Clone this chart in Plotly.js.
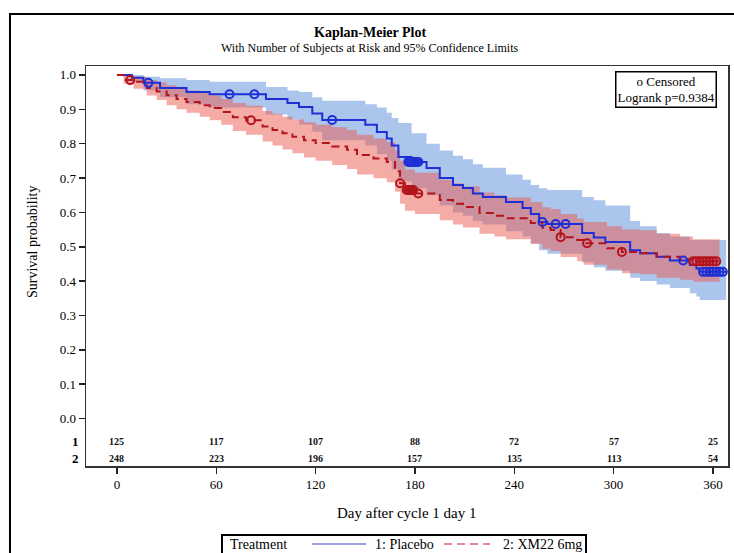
<!DOCTYPE html>
<html>
<head>
<meta charset="utf-8">
<script src="https://cdn.plot.ly/plotly-3.0.1.min.js"></script>
<style>html,body{margin:0;padding:0;background:#fff;}#chart{width:734px;height:553px;}</style>
</head>
<body>
<div id="chart"></div>
<script>
// ---------- data ----------
var xTicks = [0, 60, 120, 180, 240, 300, 360];
var yTicks = [0, 0.1, 0.2, 0.3, 0.4, 0.5, 0.6, 0.7, 0.8, 0.9, 1.0];
var yTickText = ["0.0","0.1","0.2","0.3","0.4","0.5","0.6","0.7","0.8","0.9","1.0"];

var groupNames = ["1: Placebo", "2: XM22 6mg"];
var atRiskPlacebo = [125, 117, 107, 88, 72, 57, 25];
var atRiskXM22    = [248, 223, 196, 157, 135, 113, 54];

// 1: Placebo
var pTime  = [0, 9, 16, 26, 42, 56, 90, 103, 110, 118, 124, 150, 157, 163, 166, 170, 178, 187, 195, 203, 209, 215, 221, 235, 245, 250, 255, 260, 281, 288, 295, 310, 316, 326, 334, 346, 350, 352, 368];
var pSurv  = [1.0, 0.992, 0.977, 0.962, 0.950, 0.944, 0.930, 0.918, 0.907, 0.888, 0.869, 0.855, 0.834, 0.815, 0.795, 0.761, 0.747, 0.729, 0.700, 0.680, 0.671, 0.655, 0.645, 0.630, 0.613, 0.595, 0.572, 0.566, 0.540, 0.527, 0.514, 0.490, 0.481, 0.471, 0.460, 0.447, 0.437, 0.427, 0.427];
var pUpper = [1.0, 1.0, 0.995, 0.99, 0.985, 0.98, 0.965, 0.955, 0.95, 0.935, 0.925, 0.915, 0.905, 0.89, 0.875, 0.86, 0.83, 0.80, 0.78, 0.765, 0.755, 0.74, 0.73, 0.71, 0.695, 0.68, 0.67, 0.665, 0.645, 0.635, 0.62, 0.575, 0.56, 0.54, 0.53, 0.52, 0.52, 0.52, 0.52];
var pLower = [1.0, 0.98, 0.955, 0.935, 0.915, 0.905, 0.885, 0.87, 0.855, 0.835, 0.81, 0.795, 0.77, 0.75, 0.725, 0.69, 0.67, 0.65, 0.62, 0.60, 0.59, 0.575, 0.565, 0.545, 0.53, 0.51, 0.49, 0.48, 0.455, 0.44, 0.43, 0.41, 0.40, 0.39, 0.38, 0.365, 0.355, 0.345, 0.345];
var pCensT = [19, 68, 83, 130, 176, 177, 178, 179, 180, 181, 182, 257, 265, 271, 342, 354, 356, 358, 360, 362, 364, 366];
var pCensS = [0.977, 0.944, 0.944, 0.869, 0.747, 0.747, 0.747, 0.747, 0.747, 0.747, 0.747, 0.572, 0.566, 0.566, 0.460, 0.427, 0.427, 0.427, 0.427, 0.427, 0.427, 0.427];

// 2: XM22 6mg
var rTime  = [0, 4, 10, 18, 24, 30, 36, 42, 50, 56, 63, 70, 78, 88, 94, 100, 106, 113, 120, 130, 139, 145, 155, 163, 168, 171, 174, 180, 195, 203, 209, 219, 228, 235, 250, 257, 262, 268, 278, 282, 296, 305, 316, 326, 340, 348, 364];
var rSurv  = [1.0, 0.985, 0.98, 0.962, 0.952, 0.941, 0.93, 0.921, 0.912, 0.904, 0.892, 0.877, 0.868, 0.85, 0.84, 0.83, 0.82, 0.81, 0.802, 0.792, 0.782, 0.767, 0.757, 0.747, 0.72, 0.685, 0.665, 0.655, 0.636, 0.625, 0.616, 0.598, 0.59, 0.583, 0.569, 0.555, 0.549, 0.528, 0.52, 0.51, 0.496, 0.485, 0.481, 0.471, 0.464, 0.458, 0.458];
var rUpper = [1.0, 1.0, 0.995, 0.985, 0.978, 0.97, 0.962, 0.955, 0.948, 0.94, 0.93, 0.918, 0.91, 0.895, 0.887, 0.878, 0.87, 0.862, 0.855, 0.848, 0.84, 0.826, 0.815, 0.805, 0.78, 0.75, 0.725, 0.715, 0.695, 0.685, 0.675, 0.658, 0.65, 0.643, 0.63, 0.615, 0.61, 0.595, 0.582, 0.572, 0.56, 0.55, 0.548, 0.538, 0.53, 0.522, 0.522];
var rLower = [1.0, 0.975, 0.96, 0.94, 0.927, 0.912, 0.9, 0.89, 0.878, 0.868, 0.855, 0.837, 0.826, 0.806, 0.795, 0.783, 0.772, 0.76, 0.75, 0.738, 0.726, 0.71, 0.699, 0.688, 0.66, 0.625, 0.605, 0.595, 0.577, 0.565, 0.556, 0.538, 0.53, 0.522, 0.508, 0.494, 0.488, 0.47, 0.458, 0.448, 0.434, 0.423, 0.42, 0.41, 0.404, 0.398, 0.398];
var rCensT = [8, 81, 171, 175, 176, 177, 178, 179, 182, 268, 284, 305, 348, 350, 352, 354, 356, 358, 360, 362];
var rCensS = [0.985, 0.868, 0.685, 0.665, 0.665, 0.665, 0.665, 0.665, 0.655, 0.528, 0.51, 0.485, 0.458, 0.458, 0.458, 0.458, 0.458, 0.458, 0.458, 0.458];

// ---------- styling ----------
var SERIF = "'Liberation Serif', 'Times New Roman', serif";
var BLUE = "#1f2fd6";
var RED = "#b3141c";
var BLUE_FILL = "rgba(90,140,220,0.5)";
var RED_FILL = "rgba(235,90,80,0.5)";
var BLUE_LEG = "#7a82d8";
var RED_LEG = "#e0607a";

var traces = [
  {x: pTime, y: pUpper, mode: "lines", line: {width: 0, shape: "hv"}, hoverinfo: "skip", showlegend: false},
  {x: pTime, y: pLower, mode: "lines", line: {width: 0, shape: "hv"}, fill: "tonexty", fillcolor: BLUE_FILL, hoverinfo: "skip", showlegend: false},
  {x: rTime, y: rUpper, mode: "lines", line: {width: 0, shape: "hv"}, hoverinfo: "skip", showlegend: false},
  {x: rTime, y: rLower, mode: "lines", line: {width: 0, shape: "hv"}, fill: "tonexty", fillcolor: RED_FILL, hoverinfo: "skip", showlegend: false},
  {x: pTime, y: pSurv, mode: "lines", name: groupNames[0], showlegend: false, line: {color: BLUE, width: 2, shape: "hv"}},
  {x: rTime, y: rSurv, mode: "lines", name: groupNames[1], showlegend: false, line: {color: RED, width: 2, shape: "hv", dash: "8px,5px"}},
  {x: pCensT, y: pCensS, mode: "markers", showlegend: false, marker: {symbol: "circle-open", size: 8, color: BLUE, line: {width: 2, color: BLUE}}},
  {x: rCensT, y: rCensS, mode: "markers", showlegend: false, marker: {symbol: "circle-open", size: 8, color: RED, line: {width: 2, color: RED}}}
];

function px2x(px) { return (px - 86) / 642; }
function px2y(py) { return (466 - py) / 400; }

var annotations = [
  {text: "<b>Kaplan-Meier Plot</b>", xref: "paper", yref: "paper", x: 0.442, y: 1.085, xanchor: "center", yanchor: "middle", showarrow: false, font: {family: SERIF, size: 14, color: "#000"}},
  {text: "With Number of Subjects at Risk and 95% Confidence Limits", xref: "paper", yref: "paper", x: 0.442, y: 1.045, xanchor: "center", yanchor: "middle", showarrow: false, font: {family: SERIF, size: 12, color: "#000"}},
  {text: "Survival probability", xref: "paper", yref: "paper", x: -0.0826, y: 0.56, textangle: -90, xanchor: "center", yanchor: "middle", showarrow: false, font: {family: SERIF, size: 14, color: "#000"}},
  {text: "Day after cycle 1 day 1", xref: "paper", yref: "paper", x: 0.5, y: -0.1175, xanchor: "center", yanchor: "middle", showarrow: false, font: {family: SERIF, size: 15, color: "#000"}},
  {text: "o Censored<br>Logrank p=0.9384", xref: "paper", yref: "paper", x: 0.9034, y: 0.941, xanchor: "center", yanchor: "middle", showarrow: false, align: "center", bordercolor: "#000", borderwidth: 1.5, borderpad: 1, bgcolor: "#fff", font: {family: SERIF, size: 13, color: "#000"}},
  {text: "<b>1</b>", xref: "paper", yref: "y", x: -0.008, y: -0.0655, xanchor: "right", yanchor: "middle", showarrow: false, font: {family: SERIF, size: 13, color: "#000"}},
  {text: "<b>2</b>", xref: "paper", yref: "y", x: -0.008, y: -0.115, xanchor: "right", yanchor: "middle", showarrow: false, font: {family: SERIF, size: 13, color: "#000"}},
  // legend texts
  {text: "Treatment", xref: "paper", yref: "paper", x: px2x(228), y: px2y(544), xanchor: "left", yanchor: "middle", showarrow: false, font: {family: SERIF, size: 14, color: "#000"}},
  {text: groupNames[0], xref: "paper", yref: "paper", x: px2x(373), y: px2y(544), xanchor: "left", yanchor: "middle", showarrow: false, font: {family: SERIF, size: 14, color: "#000"}},
  {text: groupNames[1], xref: "paper", yref: "paper", x: px2x(501), y: px2y(544), xanchor: "left", yanchor: "middle", showarrow: false, font: {family: SERIF, size: 14, color: "#000"}}
];
for (var i = 0; i < xTicks.length; i++) {
  annotations.push({text: "<b>" + atRiskPlacebo[i] + "</b>", xref: "x", yref: "y", x: xTicks[i], y: -0.0655, xanchor: "center", yanchor: "middle", showarrow: false, font: {family: SERIF, size: 10, color: "#111"}});
  annotations.push({text: "<b>" + atRiskXM22[i] + "</b>", xref: "x", yref: "y", x: xTicks[i], y: -0.115, xanchor: "center", yanchor: "middle", showarrow: false, font: {family: SERIF, size: 10, color: "#111"}});
}

var layout = {
  width: 734, height: 553,
  margin: {l: 86, r: 6, t: 66, b: 87, autoexpand: false},
  paper_bgcolor: "#fff", plot_bgcolor: "#fff",
  font: {family: SERIF, size: 13, color: "#000"},
  xaxis: {range: [-18.7, 369.1], tickvals: xTicks, ticks: "outside", ticklen: 6, tickwidth: 1.5, tickcolor: "#222",
          showgrid: false, zeroline: false, showline: true, mirror: true, linecolor: "#333", linewidth: 1.5,
          tickfont: {family: SERIF, size: 13, color: "#000"}},
  yaxis: {range: [-0.138, 1.026], tickvals: yTicks, ticktext: yTickText, ticks: "outside", ticklen: 6, tickwidth: 1.5, tickcolor: "#222",
          showgrid: false, zeroline: false, showline: true, mirror: true, linecolor: "#333", linewidth: 1.5,
          tickfont: {family: SERIF, size: 13, color: "#000"}},
  showlegend: false,
  annotations: annotations,
  shapes: [
    {type: "rect", xref: "paper", yref: "paper", x0: -0.1184, x1: 1.06, y0: -0.25, y1: 1.13, line: {color: "#000", width: 2}, fillcolor: "rgba(0,0,0,0)", layer: "below"},
    // legend frame and samples
    {type: "rect", xref: "paper", yref: "paper", x0: px2x(222), x1: px2x(586), y0: px2y(556), y1: px2y(535), line: {color: "#000", width: 2}, fillcolor: "#fff"},
    {type: "line", xref: "paper", yref: "paper", x0: px2x(312), x1: px2x(366), y0: px2y(544), y1: px2y(544), line: {color: BLUE_LEG, width: 1.5}},
    {type: "line", xref: "paper", yref: "paper", x0: px2x(444), x1: px2x(490), y0: px2y(544), y1: px2y(544), line: {color: RED_LEG, width: 1.5, dash: "8px,5px"}}
  ]
};

Plotly.newPlot("chart", traces, layout, {displayModeBar: false, staticPlot: true});
</script>
</body>
</html>
